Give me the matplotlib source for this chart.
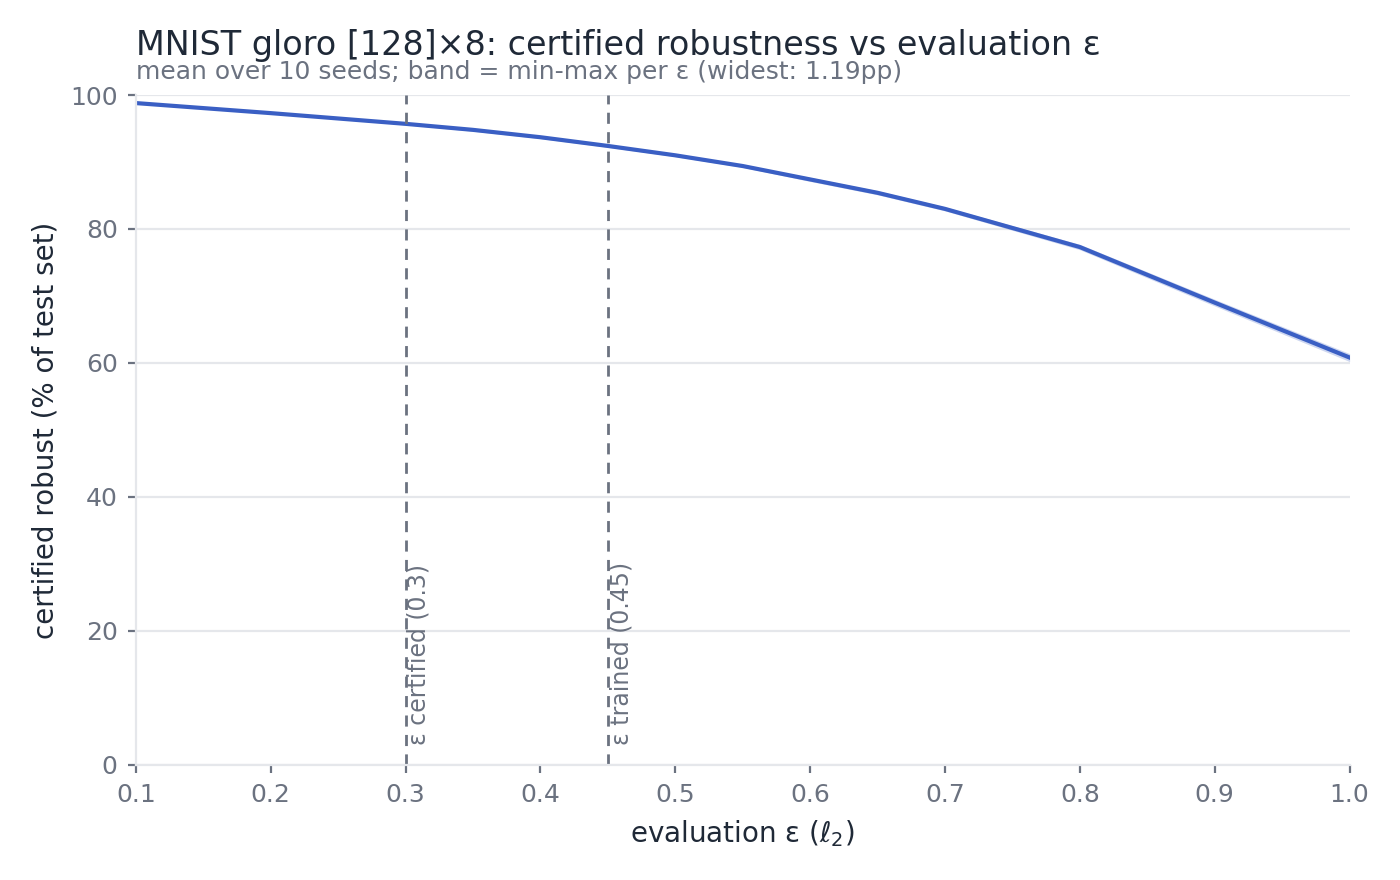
import numpy as np
import matplotlib
matplotlib.use("Agg")
import matplotlib.pyplot as plt

# evaluation epsilons and certified robust accuracy (mean, min, max over seeds)
eps = [0.1, 0.2, 0.3, 0.35, 0.4, 0.45, 0.5, 0.55, 0.6, 0.65, 0.7, 0.8, 0.9, 1.0]
mean_acc = [98.8, 97.3, 95.7, 94.8, 93.7, 92.4, 91.0, 89.4, 87.4, 85.4, 83.0, 77.3, 69.0, 60.8]
min_acc = [98.7, 97.2, 95.55, 94.6, 93.5, 92.2, 90.8, 89.2, 87.1, 85.1, 82.7, 76.9, 68.5, 60.2]
max_acc = [98.9, 97.4, 95.85, 95.0, 93.9, 92.6, 91.2, 89.6, 87.7, 85.7, 83.3, 77.7, 69.5, 61.39]

eps_certified = 0.3
eps_trained = 0.45

TEXT = "#1f2937"
MUTED = "#6b7280"
GRID = "#e5e7eb"
LINE = "#3a5fc4"

fig = plt.figure(figsize=(7, 4.4), dpi=200)
ax = fig.add_axes([0.097, 0.131, 0.867, 0.761])

ax.fill_between(eps, min_acc, max_acc, color=LINE, alpha=0.25, linewidth=0)
ax.plot(eps, mean_acc, color=LINE, linewidth=1.5)

for x, lab in [(eps_certified, f"ε certified ({eps_certified})"),
               (eps_trained, f"ε trained ({eps_trained})")]:
    ax.axvline(x, color=MUTED, linestyle="--", linewidth=1.0, dashes=(4, 3))
    ax.text(x + 0.001, 3, lab, rotation=90, color=MUTED, fontsize=8.5,
            ha="left", va="bottom")

ax.set_xlim(0.1, 1.0)
ax.set_ylim(0, 100)
ax.set_xticks(np.arange(0.1, 1.01, 0.1))
ax.set_xticklabels([f"{v:.1f}" for v in np.arange(0.1, 1.01, 0.1)])
ax.set_yticks([0, 20, 40, 60, 80, 100])
ax.yaxis.grid(True, color=GRID, linewidth=0.8)
ax.set_axisbelow(True)
for s in ["top", "right"]:
    ax.spines[s].set_visible(False)
for s in ["left", "bottom"]:
    ax.spines[s].set_color(GRID)
    ax.spines[s].set_linewidth(0.8)
ax.tick_params(colors=MUTED, labelsize=9, length=3, color=MUTED, width=0.8)

ax.set_xlabel(r"evaluation ε ($\ell_2$)", color=TEXT, fontsize=10)
ax.set_ylabel("certified robust (% of test set)", color=TEXT, fontsize=10)

fig.text(0.097, 0.93, "MNIST gloro [128]×8: certified robustness vs evaluation ε",
         color=TEXT, fontsize=12, ha="left", va="bottom")
fig.text(0.097, 0.904, "mean over 10 seeds; band = min-max per ε (widest: 1.19pp)",
         color=MUTED, fontsize=9, ha="left", va="bottom")

fig.savefig("out.png", dpi=200)
